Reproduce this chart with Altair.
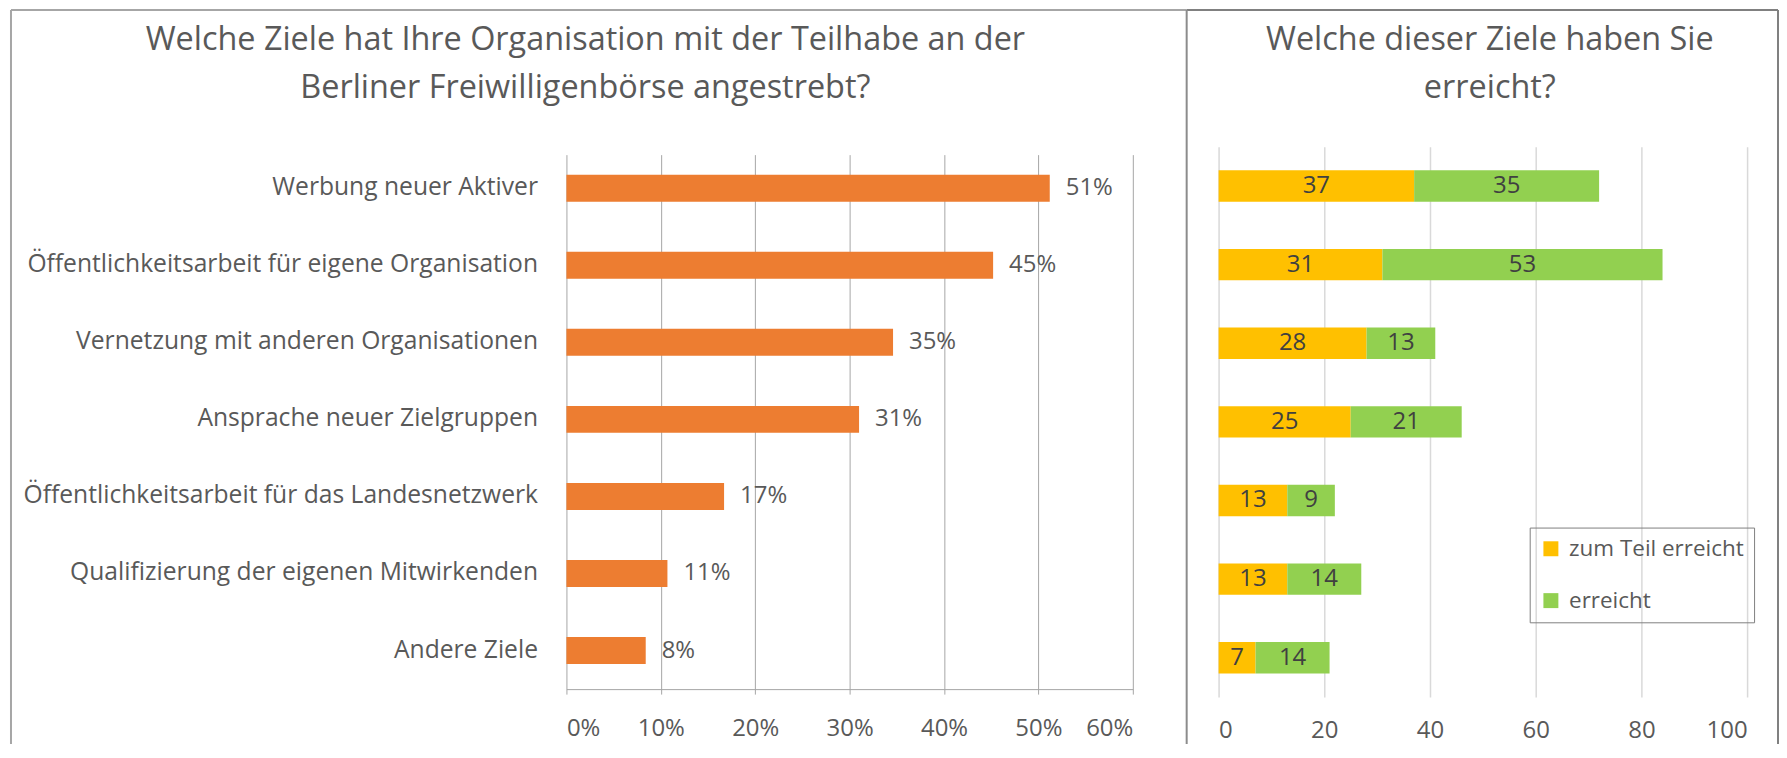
import altair as alt
import pandas as pd

# ---------------- data ----------------
cats = [
    "Werbung neuer Aktiver",
    "Öffentlichkeitsarbeit für eigene Organisation",
    "Vernetzung mit anderen Organisationen",
    "Ansprache neuer Zielgruppen",
    "Öffentlichkeitsarbeit für das Landesnetzwerk",
    "Qualifizierung der eigenen Mitwirkenden",
    "Andere Ziele",
]
share = [0.512, 0.452, 0.346, 0.31, 0.167, 0.107, 0.084]
teil = [37, 31, 28, 25, 13, 13, 7]
erreicht = [35, 53, 13, 21, 9, 14, 14]
series = ["zum Teil erreicht", "erreicht"]
pct_ticks = [0, 0.1, 0.2, 0.3, 0.4, 0.5, 0.6]
num_ticks = [0, 20, 40, 60, 80, 100]
title_left = ["Welche Ziele hat Ihre Organisation mit der Teilhabe an der",
              "Berliner Freiwilligenbörse angestrebt?"]
title_right = ["Welche dieser Ziele haben Sie", "erreicht?"]

FONT = "Open Sans"
GRAY = "#595959"
DARK = "#404040"

one = pd.DataFrame({"k": [0]})

# ---------------- scales (left panel / right panel share one view) ----------------
xL = alt.Scale(domain=[0, 0.6], range=[0, 568], nice=False)
yL = alt.Scale(domain=cats, range=[3, 544], paddingInner=0.65, paddingOuter=0.325)
xR = alt.Scale(domain=[0, 100], range=[654, 1184], nice=False)
yR = alt.Scale(domain=cats, range=[0, 552], paddingInner=0.6, paddingOuter=0.3)


def hrule(x0, x1, y, color, w=2):
    return alt.Chart(one).mark_rule(color=color, strokeWidth=w).encode(
        x=alt.value(x0), x2=alt.value(x1), y=alt.value(y))


def vrule(x, y0, y1, color, w=2):
    return alt.Chart(one).mark_rule(color=color, strokeWidth=w).encode(
        x=alt.value(x), y=alt.value(y0), y2=alt.value(y1))


def title_mark(lines, x, y):
    return alt.Chart(pd.DataFrame({"t": ["\n".join(lines)]})).mark_text(
        lineBreak="\n", lineHeight=48, fontSize=32.5, color=GRAY, font=FONT,
        align="center", baseline="middle"
    ).encode(text="t:N", x=alt.value(x), y=alt.value(y))


# ---------------- left panel ----------------
left_df = pd.DataFrame({"cat": cats, "share": share})
bars_l = alt.Chart(left_df).mark_bar(color="#ED7D31").encode(
    x=alt.X("share:Q", scale=xL,
            axis=alt.Axis(orient="bottom", offset=-8, values=pct_ticks,
                          format=".0%", title=None, grid=True,
                          gridColor="#a6a6a6", domainColor="#a6a6a6",
                          ticks=False, tickSize=0, labelPadding=28,
                          labelFontSize=24, labelColor=GRAY, labelFont=FONT)),
    y=alt.Y("cat:N", scale=yL,
            axis=alt.Axis(orient="left", title=None, domain=False, ticks=False,
                          grid=False, labelPadding=29, labelFontSize=24.7,
                          labelColor=GRAY, labelFont=FONT, labelLimit=800)),
)
lab_l = alt.Chart(left_df).mark_text(
    align="left", baseline="middle", dx=16, fontSize=24, color=GRAY, font=FONT
).encode(
    x=alt.X("share:Q", scale=xL, axis=None),
    y=alt.Y("cat:N", scale=yL, axis=None),
    text=alt.Text("share:Q", format=".0%"),
)

# ---------------- right panel ----------------
rows = []
for c, a, b in zip(cats, teil, erreicht):
    rows.append({"cat": c, "series": series[0], "v": a, "o": 0})
    rows.append({"cat": c, "series": series[1], "v": b, "o": 1})
right_df = pd.DataFrame(rows)

base_r = alt.Chart(right_df).transform_stack(
    stack="v", groupby=["cat"], as_=["x0", "x1"], sort=[alt.SortField("o")]
).transform_calculate(mid="(datum.x0 + datum.x1) / 2")

bars_r = base_r.mark_bar().encode(
    x=alt.X("x0:Q", scale=xR,
            axis=alt.Axis(orient="bottom", values=num_ticks, title=None,
                          grid=True, gridColor="#d9d9d9", gridWidth=1.5,
                          domain=False, ticks=False, tickSize=0,
                          labelPadding=22, labelFontSize=24, labelColor=GRAY,
                          labelFont=FONT)),
    x2="x1:Q",
    y=alt.Y("cat:N", scale=yR, axis=None),
    color=alt.Color("series:N",
                    scale=alt.Scale(domain=series, range=["#FFC000", "#92D050"]),
                    legend=alt.Legend(title=None, orient="none", legendX=966,
                                      legendY=382, padding=10, rowPadding=29,
                                      symbolType="square", symbolSize=225,
                                      symbolStrokeWidth=0, symbolOpacity=1,
                                      labelFontSize=22.5, labelColor=GRAY,
                                      labelFont=FONT, labelOffset=7,
                                      labelLimit=400, strokeColor="#7f7f7f")),
)
text_r = base_r.mark_text(fontSize=24, color=DARK, font=FONT,
                          baseline="middle").encode(
    x=alt.X("mid:Q", scale=xR, axis=None),
    y=alt.Y("cat:N", scale=yR, axis=None),
    text="v:Q",
)

# ---------------- frames and titles ----------------
LC, RC = "#a6a6a6", "#808080"
decor = [
    hrule(-557, 622, -137, LC),
    vrule(-557, -137, 599, LC),
    hrule(622, 1215, -137, RC),
    vrule(622, -137, 599, "#8c8c8c"),
    vrule(1215, -137, 599, RC),
    title_mark(title_left, 19, -107),
    title_mark(title_right, 926, -107),
]

chart = alt.layer(bars_l, lab_l, bars_r, text_r, *decor).resolve_scale(
    x="independent", y="independent"
).properties(
    width=1184, height=552,
    padding={"left": 2, "top": 0, "right": 0, "bottom": 0},
).configure_view(stroke=None)

chart.save("out.html", embed_options={"renderer": "svg", "actions": False})
